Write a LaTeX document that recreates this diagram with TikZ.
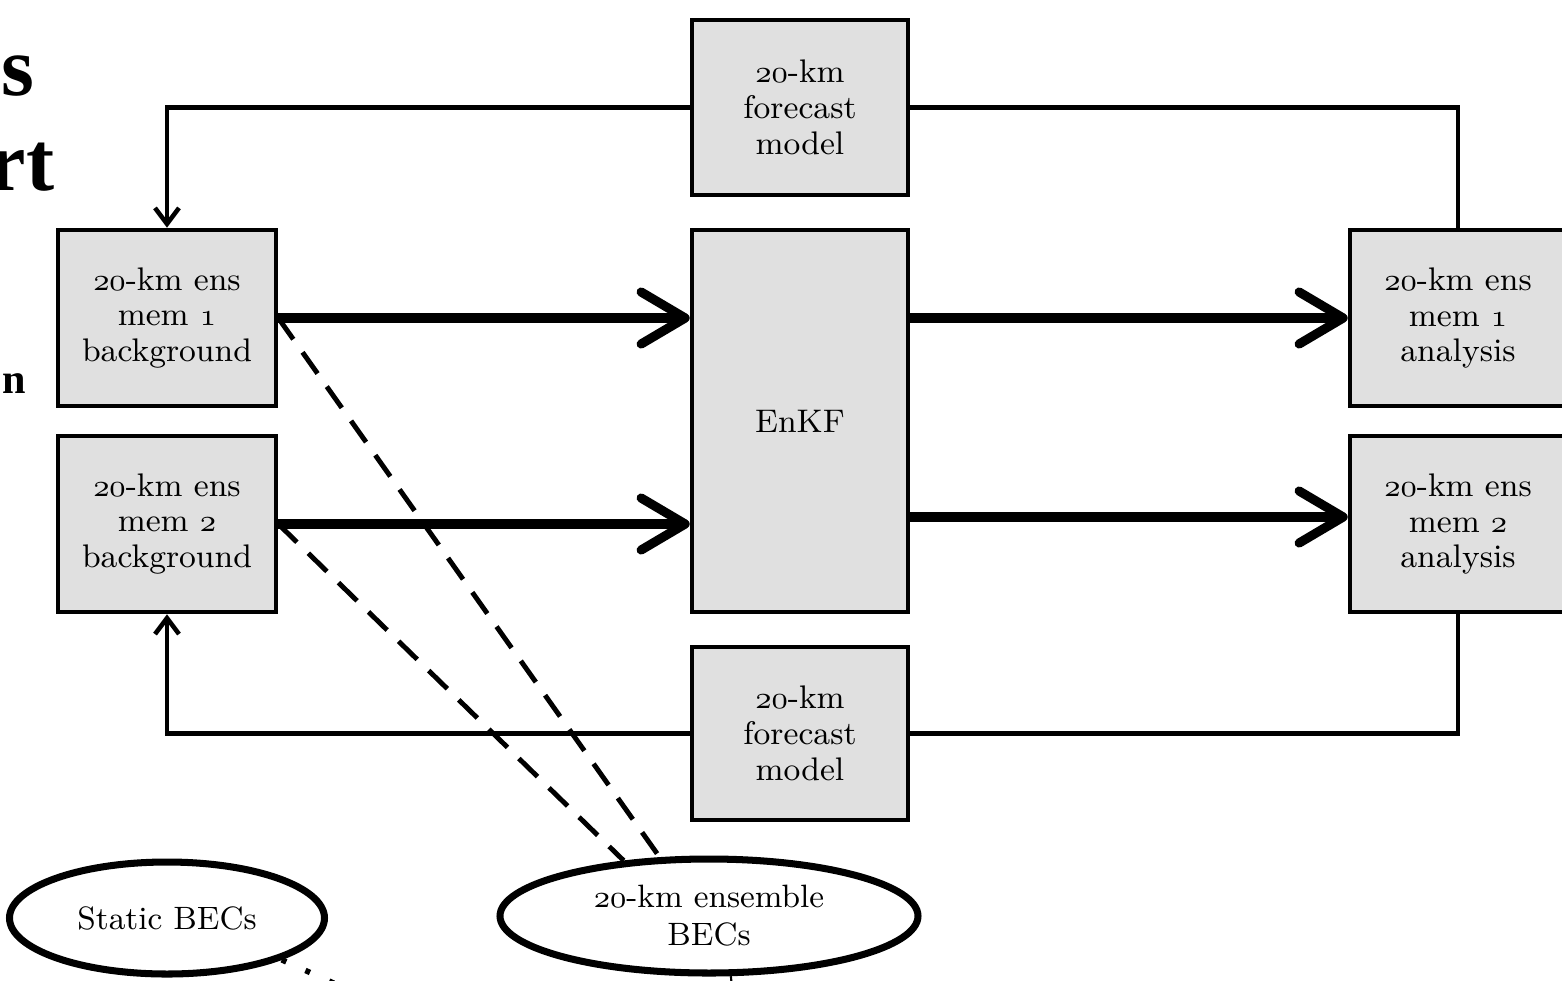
\documentclass[tikz,border=0pt]{standalone}
\usepackage{fontspec}
\usepackage{tikz}
\usetikzlibrary{arrows.meta,shapes.geometric}
\newfontfamily\ttlfont{Liberation Serif}
\definecolor{boxgray}{HTML}{E0E0E0}
\newcommand\bxfont{\fontsize{9.3}{10.2}\selectfont}
\newcommand\osn[1]{{\usefont{OML}{lmm}{m}{it}#1}}

\begin{document}
\begin{tikzpicture}[
  box/.style={draw, rectangle, line width=1.3pt, fill=boxgray,
    minimum width=2.16cm, inner sep=0pt, align=center, font=\bxfont},
  blob/.style={draw, ellipse, line width=2pt, inner sep=0pt,
    align=center, font=\fontsize{9.2}{10.8}\selectfont},
  ttl/.style={font=\ttlfont\bfseries\fontsize{24}{28}\selectfont, inner sep=0pt},
  fat/.style={-{Straight Barb[length=4.4mm, width=5.2mm, round]}, line width=2.6pt},
  lp/.style={line width=1.3pt},
  lpa/.style={lp, -{Straight Barb[length=1.6mm, width=2.4mm]}},
  dsh/.style={line width=1.4pt, dash pattern=on 2.6mm off 1.6mm},
  dot/.style={line width=1.6pt, dash pattern=on 0.5mm off 2.1mm},
]
\useasboundingbox (0,0) rectangle (15.62,9.80);
% cut-off title letters
\node[ttl, anchor=base east] (t1) at (0.35,8.85) {s};
\node[ttl, anchor=base east] (t2) at (0.55,7.90) {rt};
\node[ttl, anchor=base east, font=\ttlfont\bfseries\fontsize{12}{14}\selectfont] (t3) at (0.27,5.87) {n};
% boxes
\node[box, minimum height=1.75cm] (fcTop) at (8.00,8.725) {\osn{20}-km\\forecast\\model};
\node[box, minimum height=3.82cm] (enkf) at (8.00,5.59) {EnKF};
\node[box, minimum height=1.73cm] (fcBot) at (8.00,2.465) {\osn{20}-km\\forecast\\model};
\node[box, minimum width=2.18cm, minimum height=1.76cm] (bg1) at (1.67,6.62) {\osn{20}-km ens\\mem \osn{1}\\background};
\node[box, minimum width=2.18cm, minimum height=1.76cm] (bg2) at (1.67,4.56) {\osn{20}-km ens\\mem \osn{2}\\background};
\node[box, minimum height=1.76cm] (an1) at (14.58,6.62) {\osn{20}-km ens\\mem \osn{1}\\analysis};
\node[box, minimum height=1.76cm] (an2) at (14.58,4.56) {\osn{20}-km ens\\mem \osn{2}\\analysis};
% BECs
\node[blob, minimum width=3.15cm, minimum height=1.12cm] (st) at (1.67,0.62) {Static BECs};
\node[blob, minimum width=4.18cm, minimum height=1.14cm] (ens) at (7.09,0.64) {\osn{20}-km ensemble\\BECs};
\coordinate (stout) at (3.6,-0.15);
\coordinate (ensout) at (7.33,-0.2);
% cycling
\draw[lp] (an1.north) |- (fcTop.east);
\draw[lpa] (fcTop.west) -| (bg1.north);
\draw[lp] (an2.south) |- (fcBot.east);
\draw[lpa] (fcBot.west) -| (bg2.south);
% into and out of the filter
\draw[fat] (bg1.east) -- (bg1.east -| enkf.west);
\draw[fat] (bg2.east) -- (bg2.east -| enkf.west);
\draw[fat] (enkf.east |- an1.west) -- (an1.west);
\draw[fat] ([yshift=0.07cm]enkf.east |- an2.west) -- ([yshift=0.07cm]an2.west);
% covariances
\draw[dsh] (bg1.east) -- (ens.130);
\draw[dsh] (bg2.east) -- (ens.147);
\draw[dot] (st.-20) -- (stout);
\draw[line width=0.6pt] (ens.-70) -- (ensout);
\end{tikzpicture}
\end{document}
